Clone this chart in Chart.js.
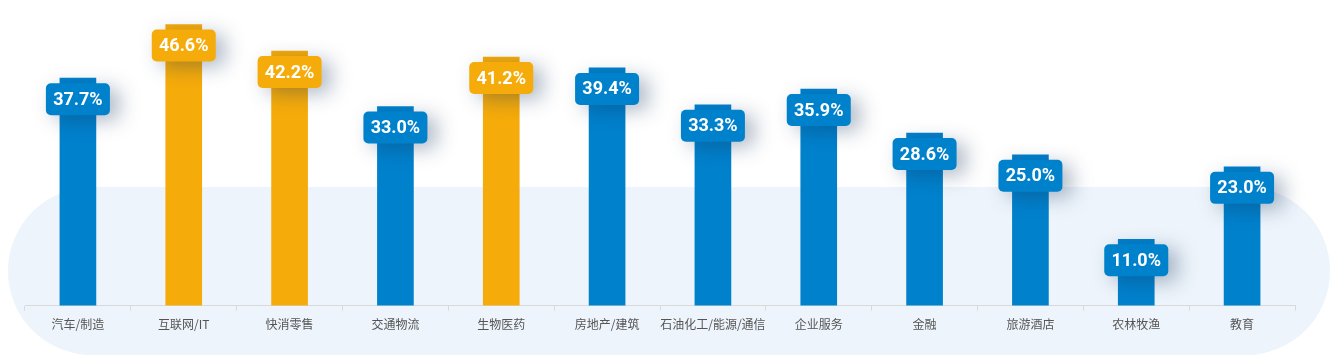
<!DOCTYPE html>
<html><head><meta charset="utf-8">
<script src="https://cdn.jsdelivr.net/npm/chart.js@4/dist/chart.umd.min.js"></script>
<style>html,body{margin:0;padding:0;background:#fff}#wrap{width:1338px;height:360px;position:relative}</style>
</head><body><div id="wrap"><canvas id="c" width="1338" height="360"></canvas></div>
<script>
const categories = ['汽车/制造','互联网/IT','快消零售','交通物流','生物医药','房地产/建筑','石油化工/能源/通信','企业服务','金融','旅游酒店','农林牧渔','教育'];
const values = [37.7,46.6,42.2,33.0,41.2,39.4,33.3,35.9,28.6,25.0,11.0,23.0];
const highlighted = ['互联网/IT','快消零售','生物医药'];
const BLUE = '#0081cc', ORANGE = '#f5ab0a';
const colors = categories.map(c => highlighted.includes(c) ? ORANGE : BLUE);

const bgPlugin = {
  id:'bg',
  beforeDraw(chart){
    const ctx = chart.ctx;
    ctx.save();
    ctx.fillStyle = '#edf4fb';
    ctx.beginPath();
    ctx.roundRect(8, 187, 1322, 168, 84);
    ctx.fill();
    ctx.restore();
  }
};
const labelPlugin = {
  id:'lbl',
  afterDatasetsDraw(chart){
    const ctx = chart.ctx;
    const meta = chart.getDatasetMeta(0);
    meta.data.forEach((el,i)=>{
      const w = 64, h = 32;
      const x = el.x - w/2, y = el.y + 5;
      ctx.save();
      ctx.shadowColor = 'rgba(20,50,90,0.35)';
      ctx.shadowBlur = 20;
      ctx.shadowOffsetX = 9;
      ctx.shadowOffsetY = 5;
      ctx.fillStyle = colors[i];
      ctx.beginPath(); ctx.roundRect(x,y,w,h,5); ctx.fill();
      ctx.restore();
      ctx.save();
      ctx.fillStyle = '#fff';
      ctx.font = 'bold 18px Roboto, "Noto Sans", sans-serif';
      ctx.textAlign = 'center'; ctx.textBaseline = 'middle';
      ctx.fillText(values[i].toFixed(1)+'%', el.x, y + h/2 + 1);
      ctx.restore();
    });
  }
};

new Chart(document.getElementById('c'), {
  type:'bar',
  data:{ labels:categories, datasets:[{ data:values, backgroundColor:colors, barThickness:36, borderWidth:0 }]},
  options:{
    responsive:false, animation:false, devicePixelRatio:1,
    layout:{ padding:{ left:25, right:43, top:4, bottom:21 } },
    plugins:{ legend:{display:false}, tooltip:{enabled:false} },
    scales:{
      x:{ offset:true,
          grid:{ display:true, drawOnChartArea:false, tickLength:5, color:'#d9d9d9', offset:true },
          border:{ display:true, color:'#d9d9d9', width:1 },
          ticks:{ color:'#555', font:{ size:12, family:'"Noto Sans CJK SC", sans-serif' }, padding:7, maxRotation:0, autoSkip:false } },
      y:{ display:false, min:0, max:50 }
    }
  },
  plugins:[bgPlugin,labelPlugin]
});
</script></body></html>
